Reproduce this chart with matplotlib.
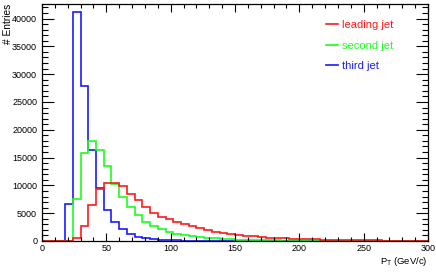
import numpy as np
import matplotlib
matplotlib.use('Agg')
import matplotlib.pyplot as plt
from matplotlib.ticker import MultipleLocator

plt.rcParams['font.family'] = ['Liberation Sans Narrow', 'Liberation Sans', 'DejaVu Sans']

# 6 GeV bins from 0 to 300
bin_edges = np.arange(0, 301, 6)

leading_jet = [0, 0, 0, 30, 600, 2700, 6400, 9400, 10400, 10400,
               9800, 8500, 7400, 6200, 5100, 4400, 3900, 3500, 3100, 2700,
               2300, 2000, 1700, 1450, 1250, 1100, 950, 820, 720, 620,
               540, 470, 410, 360, 310, 270, 240, 210, 185, 160,
               140, 125, 110, 95, 85, 75, 65, 55, 50, 45]
second_jet = [0, 0, 0, 20, 7600, 15900, 17900, 16300, 13400, 10200,
              7900, 6100, 4600, 3500, 2700, 2100, 1600, 1300, 1050, 850,
              680, 550, 450, 370, 300, 250, 210, 175, 145, 120,
              100, 85, 70, 60, 50, 42, 35, 30, 25, 20,
              17, 14, 12, 10, 8, 6, 5, 4, 3, 2]
third_jet = [0, 0, 0, 6600, 41100, 27900, 16400, 9500, 5500, 3400,
             2100, 1300, 800, 550, 380, 260, 180, 120, 80, 55,
             40, 30, 22, 16, 12, 9, 7, 5, 4, 3,
             2, 2, 1, 1, 1, 0, 0, 0, 0, 0,
             0, 0, 0, 0, 0, 0, 0, 0, 0, 0]

labels = ['leading jet', 'second jet', 'third jet']
colors = ['#ff1a1a', '#1aff1a', '#1a1aff']

fig = plt.figure(figsize=(4.36, 2.73), dpi=100)
ax = fig.add_axes([42/436, 1 - 241/273, (428 - 42)/436, (241 - 3.5)/273])

series = [leading_jet, second_jet, third_jet]
handles = []
# draw third, second, then leading on top
for vals, lab, col in reversed(list(zip(series, labels, colors))):
    h = ax.stairs(vals, bin_edges, color=col, linewidth=1.2, label=lab, clip_on=False)
    handles.append(h)
handles = handles[::-1]

ax.set_xlim(0, 300)
ax.set_ylim(0, 42700)

ax.xaxis.set_major_locator(MultipleLocator(50))
ax.xaxis.set_minor_locator(MultipleLocator(10))
ax.yaxis.set_major_locator(MultipleLocator(5000))
ax.yaxis.set_minor_locator(MultipleLocator(1000))

ax.tick_params(which='both', direction='in', top=True, right=True, width=0.8,
               labelsize=6.5, colors='black')
ax.tick_params(axis='y', which='major', length=8.5, pad=3.5)
ax.tick_params(axis='y', which='minor', length=4.5)
ax.tick_params(axis='x', which='major', length=6, pad=2.5)
ax.tick_params(axis='x', which='minor', length=3)
for s in ax.spines.values():
    s.set_linewidth(0.9)

fig.text(8/436, 1 - 4/273, '# Entries', rotation=90, ha='center', va='top', fontsize=7.3)
fig.text(428/436, 1 - 262/273, r'P$_{\mathregular{T}}$ (GeV/c)', ha='right', va='center', fontsize=6.8)

leg = ax.legend(handles=handles, labels=labels, frameon=False, fontsize=8,
                loc='upper left', bbox_to_anchor=(326/436, 1 - 20/273),
                bbox_transform=fig.transFigure, borderpad=0, borderaxespad=0,
                handlelength=1.1, handletextpad=0.3, labelspacing=0.95)
for t, c in zip(leg.get_texts(), colors):
    t.set_color(c)

fig.savefig('out.png', dpi=100)
